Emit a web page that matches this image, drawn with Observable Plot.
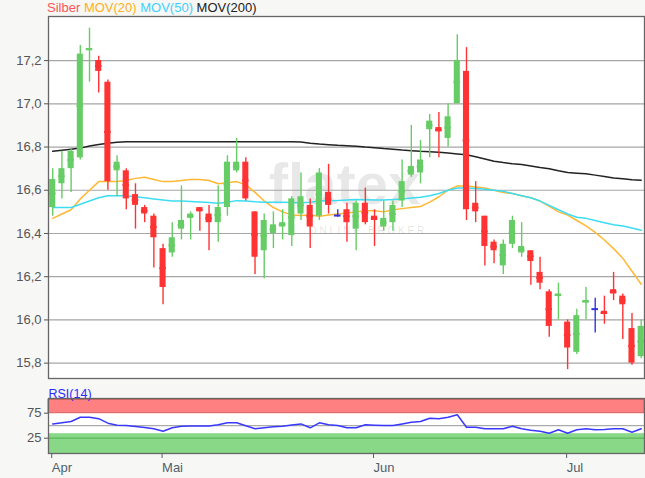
<!DOCTYPE html>
<html><head><meta charset="utf-8">
<script src="https://cdn.jsdelivr.net/npm/d3@7"></script>
<script src="https://cdn.jsdelivr.net/npm/@observablehq/plot@0.6"></script>
<style>
html,body{margin:0;padding:0;background:#f7f7f5;}
body{width:645px;height:478px;overflow:hidden;font-family:"Liberation Sans",Arial,sans-serif;}
#legend{height:15px;font-size:13px;line-height:15px;padding-left:47px;white-space:nowrap;}
#main svg,#rsi svg{display:block;}
</style></head><body>
<div id="legend"></div><div id="main"></div><div id="rsi"></div>
<script>
// trading days 2018 (MM-DD)
const dates = ["04-13","04-16","04-17","04-18","04-19","04-20","04-23","04-24","04-25","04-26","04-27","04-30",
"05-01","05-02","05-03","05-04","05-07","05-08","05-09","05-10","05-11","05-14","05-15","05-16","05-17","05-18","05-21","05-22","05-23","05-24","05-25","05-28","05-29","05-30","05-31",
"06-01","06-04","06-05","06-06","06-07","06-08","06-11","06-12","06-13","06-14","06-15","06-18","06-19","06-20","06-21","06-22","06-25","06-26","06-27","06-28","06-29",
"07-02","07-03","07-04","07-05","07-06","07-09","07-10","07-11","07-12"];
const monthLabels = ["Apr","Mai","Jun","Jul"];

const open  = [16.52,16.63,16.70,16.75,17.25,17.20,17.10,16.69,16.69,16.58,16.52,16.48,16.33,16.31,16.42,16.47,16.52,16.49,16.45,16.52,16.69,16.73,16.50,16.32,16.40,16.43,16.39,16.49,16.53,16.48,16.59,16.483,16.51,16.42,16.54,16.48,16.43,16.45,16.55,16.67,16.68,16.88,16.89,16.84,17.00,17.15,16.54,16.48,16.36,16.25,16.35,16.31,16.32,16.22,16.13,16.11,15.99,15.85,16.08,16.05,16.04,16.14,16.11,15.96,15.83];
const high  = [16.70,16.78,16.79,17.27,17.35,17.22,17.11,16.76,16.70,16.63,16.53,16.49,16.35,16.45,16.62,16.50,16.52,16.53,16.62,16.76,16.84,16.75,16.50,16.49,16.50,16.51,16.57,16.68,16.56,16.70,16.72,16.51,16.54,16.55,16.61,16.51,16.55,16.55,16.74,16.90,16.83,16.95,16.96,17.00,17.32,17.26,16.64,16.48,16.37,16.37,16.48,16.45,16.32,16.29,16.14,16.17,16.00,16.05,16.15,16.10,16.11,16.22,16.12,16.03,16.00];
const low   = [16.48,16.56,16.59,16.74,17.10,17.05,16.60,16.57,16.51,16.42,16.45,16.24,16.07,16.29,16.37,16.37,16.41,16.32,16.36,16.48,16.68,16.55,16.21,16.19,16.33,16.37,16.34,16.46,16.33,16.46,16.49,16.475,16.36,16.32,16.44,16.34,16.41,16.41,16.52,16.66,16.63,16.75,16.75,16.80,17.00,16.46,16.45,16.25,16.26,16.21,16.33,16.29,16.16,16.14,15.92,16.00,15.77,15.84,16.00,15.94,15.98,16.09,15.91,15.79,15.82];
const close = [16.65,16.70,16.78,17.23,17.255,17.15,16.64,16.73,16.56,16.53,16.49,16.38,16.15,16.38,16.46,16.49,16.50,16.45,16.52,16.73,16.73,16.56,16.29,16.46,16.44,16.45,16.56,16.57,16.43,16.68,16.53,16.483,16.45,16.54,16.45,16.46,16.47,16.53,16.64,16.71,16.74,16.92,16.87,16.94,17.20,16.51,16.50,16.34,16.32,16.35,16.46,16.34,16.27,16.17,15.97,16.12,15.87,16.02,16.09,16.05,16.025,16.12,16.07,15.80,15.97];

const ma20  = [16.47,16.49,16.51,16.56,16.60,16.64,16.64,16.64,16.645,16.655,16.66,16.65,16.64,16.64,16.645,16.65,16.65,16.645,16.63,16.635,16.64,16.625,16.59,16.55,16.52,16.50,16.485,16.483,16.485,16.48,16.485,16.49,16.495,16.50,16.505,16.505,16.50,16.51,16.515,16.52,16.525,16.545,16.57,16.60,16.62,16.62,16.615,16.61,16.60,16.59,16.585,16.575,16.565,16.55,16.525,16.50,16.485,16.46,16.435,16.405,16.37,16.33,16.285,16.225,16.165];
const ma50  = [16.52,16.52,16.52,16.535,16.55,16.565,16.575,16.575,16.575,16.57,16.565,16.56,16.555,16.55,16.55,16.548,16.546,16.543,16.54,16.545,16.552,16.55,16.547,16.545,16.545,16.544,16.543,16.542,16.545,16.55,16.552,16.553,16.555,16.557,16.556,16.555,16.555,16.557,16.56,16.564,16.568,16.575,16.585,16.60,16.61,16.61,16.608,16.605,16.60,16.595,16.585,16.575,16.565,16.55,16.53,16.51,16.49,16.475,16.47,16.46,16.45,16.44,16.435,16.425,16.415];
const ma200 = [16.78,16.785,16.79,16.795,16.805,16.812,16.818,16.822,16.824,16.825,16.825,16.825,16.825,16.825,16.825,16.825,16.825,16.825,16.825,16.825,16.825,16.825,16.825,16.825,16.825,16.825,16.825,16.823,16.818,16.814,16.811,16.808,16.806,16.804,16.80,16.797,16.793,16.79,16.786,16.783,16.78,16.778,16.776,16.772,16.768,16.764,16.755,16.745,16.734,16.728,16.723,16.719,16.712,16.705,16.70,16.69,16.682,16.679,16.676,16.67,16.664,16.657,16.653,16.649,16.646];
const rsi14 = [53.6,56,58.4,67,67,64,55,51,50.4,48.4,46.5,44,39,45.8,49,49.3,49.5,49.6,52,55.8,55.8,50,43.8,46,48,49,51.5,53.6,45.8,55.8,52,50.4,46,45.8,51.8,51,50.5,50.4,53.6,57,58.4,65,63.7,67,71.8,47,47,43.8,43.8,43.8,49,43.8,41,39,35,41.8,35,41.8,43.8,41.8,42.5,43.8,43.8,37,43.8];

const yTicks = [15.8,16.0,16.2,16.4,16.6,16.8,17.0,17.2];
const yTickLabels = ["15,8","16,0","16,2","16,4","16,6","16,8","17,0","17,2"];
const rsiTicks = [25,75];

const legendItems = [["Silber","#ff5555"],["MOV(20)","#ffb020"],["MOV(50)","#3fd2ff"],["MOV(200)","#222"]];
document.getElementById("legend").innerHTML = legendItems.map(([t,c]) => `<span style="color:${c}">${t}</span>`).join(" ");

const candles = dates.map((d,i) => ({i, o: open[i], h: high[i], l: low[i], c: close[i]}));
const col = d => d.c > d.o ? "#66cc66" : d.c < d.o ? "#ff3333" : "#3434dd";
const mas = [[ma20,"#ffb833"],[ma50,"#3ddcf2"],[ma200,"#222222"]];
const monthTicks = dates.map((d,i)=>i).filter(i => i === 0 || dates[i].slice(0,2) !== dates[i-1].slice(0,2));

const font = {fontFamily: "Liberation Sans, Arial, sans-serif", fontSize: "13px", background: "transparent", overflow: "visible"};
const xDomain = [-0.46, 64.36];

const main = Plot.plot({
  width: 645, height: 365,
  marginTop: 1, marginBottom: 2, marginLeft: 48, marginRight: 1,
  style: font,
  x: {domain: xDomain, axis: null},
  y: {domain: [15.729, 17.404], axis: null},
  marks: [
    Plot.frame({fill: "white"}),
    Plot.text(["flatex"], {frameAnchor: "middle", dx: -2, dy: -12, fontSize: 58, fontWeight: "bold", fill: "#000", fillOpacity: 0.09, letterSpacing: "5px"}),
    Plot.text(["O N L I N E   B R O K E R"], {frameAnchor: "middle", dx: 20, dy: 33, fontSize: 10, fill: "#000", fillOpacity: 0.13}),
    Plot.ruleY(yTicks, {stroke: "#a6a6a6", strokeWidth: 1.2}),
    ...mas.map(([arr, c]) => Plot.line(arr, {x: (d,i) => i, y: d => d, stroke: c, strokeWidth: 1.5})),
    Plot.ruleX(candles, {x: "i", y1: "l", y2: "h", stroke: col, strokeWidth: 1.4}),
    Plot.rect(candles, {x1: d => d.i - 0.33, x2: d => d.i + 0.33, y1: "o", y2: "c", fill: col}),
    Plot.ruleY(candles, {x1: d => d.i - 0.36, x2: d => d.i + 0.36, y: d => (d.o + d.c) / 2, stroke: col, strokeWidth: 2}),
    Plot.axisY(yTicks, {tickFormat: d => yTickLabels[yTicks.indexOf(d)], tickSize: 4, tickPadding: 3, fontSize: 13, color: "#555", label: null}),
    Plot.frame({stroke: "#666", strokeWidth: 1.3})
  ]
});
document.getElementById("main").append(main);

const rsiPlot = Plot.plot({
  width: 645, height: 98,
  marginTop: 18, marginBottom: 25, marginLeft: 48, marginRight: 1,
  style: font,
  x: {domain: xDomain},
  y: {domain: [-5.6, 104.4]},
  marks: [
    Plot.frame({fill: "white"}),
    Plot.rect([[75, 101.5]], {y1: d => d[0], y2: d => d[1], fill: "#ff8080", stroke: "#d86060", strokeWidth: 1}),
    Plot.rect([[-6, 34]], {y1: d => d[0], y2: d => d[1], fill: "#88d888"}),
    Plot.ruleY([25], {stroke: "#5ab85a", strokeWidth: 1.2}),
    Plot.ruleY([50], {stroke: "#aaa", strokeWidth: 1.2}),
    Plot.line(rsi14, {x: (d,i) => i, y: d => d, stroke: "#3838ff", strokeWidth: 1.5}),
    Plot.axisY(rsiTicks, {tickSize: 4, tickPadding: 3, fontSize: 13, color: "#555", label: null}),
    Plot.axisX(monthTicks, {tickFormat: d => monthLabels[monthTicks.indexOf(d)], tickSize: 5, tickPadding: 4, textAnchor: "start", dx: -1, fontSize: 13, color: "#4f5f6f", label: null}),
    Plot.text(["RSI(14)"], {frameAnchor: "top-left", dx: 0, dy: -1, lineAnchor: "bottom", textAnchor: "start", fill: "#2a2aff", fontSize: 12.5}),
    Plot.frame({stroke: "#666", strokeWidth: 1.3})
  ]
});
document.getElementById("rsi").append(rsiPlot);
</script></body></html>
